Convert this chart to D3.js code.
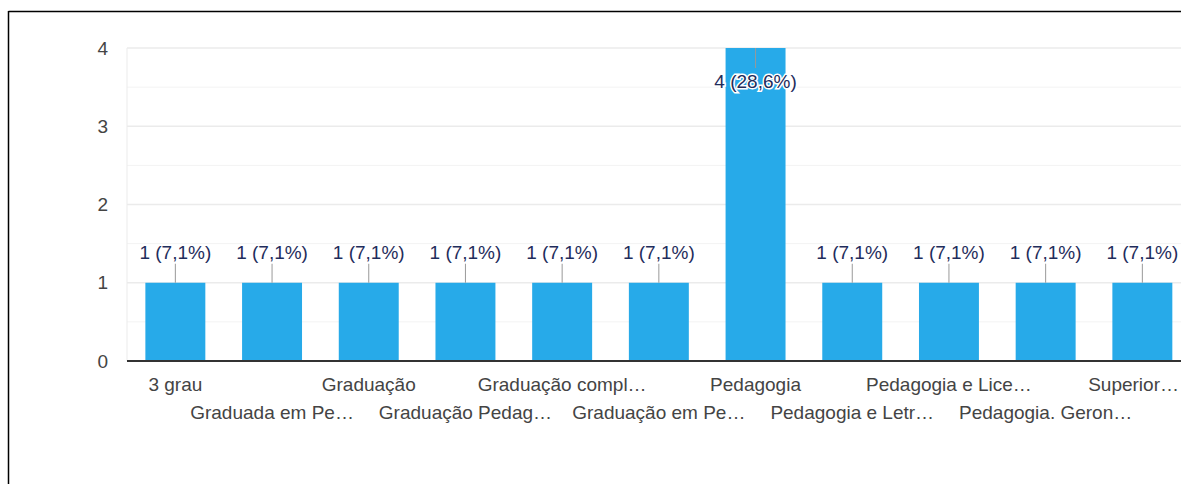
<!DOCTYPE html>
<html><head><meta charset="utf-8">
<script src="https://cdn.jsdelivr.net/npm/d3@7"></script>
<style>body{margin:0;background:#fff;}svg{display:block;font-family:"Liberation Sans", Arial, sans-serif;}</style>
</head><body>
<svg id="c" width="1181" height="484"></svg>
<script>
const categories = ["3 grau","Graduada em Pe…","Graduação","Graduação Pedag…","Graduação compl…","Graduação em Pe…","Pedagogia","Pedagogia e Letr…","Pedagogia e Lice…","Pedagogia. Geron…","Superior…"];
const values = [1,1,1,1,1,1,4,1,1,1,1];
const labels = ["1 (7,1%)","1 (7,1%)","1 (7,1%)","1 (7,1%)","1 (7,1%)","1 (7,1%)","4 (28,6%)","1 (7,1%)","1 (7,1%)","1 (7,1%)","1 (7,1%)"];
const yTicks = [0,1,2,3,4];

(function(){
const svg = d3.select("#c");
svg.append("line").attr("x1",8.5).attr("x2",1181).attr("y1",11.5).attr("y2",11.5).attr("stroke","#000").attr("stroke-width",1.5);
svg.append("line").attr("x1",8.5).attr("x2",8.5).attr("y1",11).attr("y2",484).attr("stroke","#000").attr("stroke-width",1.5);

const pLeft = 127, pBottom = 361, pTop = 48;
const x = d3.scaleBand().domain(categories).range([pLeft, pLeft + 11*96.7]).paddingInner(0.38).paddingOuter(0.19);
const y = d3.scaleLinear().domain([0,4]).range([pBottom, pTop]);

const g = svg.append("g");
d3.range(0.5,4,1).forEach(v=>{
  g.append("line").attr("x1",pLeft).attr("x2",1181).attr("y1",y(v)).attr("y2",y(v)).attr("stroke","#f3f3f3").attr("stroke-width",1);
});
yTicks.slice(1).forEach(v=>{
  g.append("line").attr("x1",pLeft).attr("x2",1181).attr("y1",y(v)).attr("y2",y(v)).attr("stroke","#ebebeb").attr("stroke-width",1.5);
});
g.append("line").attr("x1",pLeft).attr("x2",pLeft).attr("y1",pTop).attr("y2",pBottom).attr("stroke","#ebebeb").attr("stroke-width",1);

svg.append("g").selectAll("text").data(yTicks).join("text")
  .attr("x",108).attr("y",d=>y(d)).attr("dy","0.35em").attr("text-anchor","end")
  .attr("fill","#444").attr("font-size",19).text(d=>d);

svg.append("g").selectAll("rect").data(values).join("rect")
  .attr("x",(d,i)=>x(categories[i])).attr("width",x.bandwidth())
  .attr("y",d=>y(d)).attr("height",d=>pBottom-y(d)).attr("fill","#27aae9");

svg.append("line").attr("x1",pLeft).attr("x2",1181).attr("y1",pBottom).attr("y2",pBottom).attr("stroke","#333").attr("stroke-width",2);

svg.append("g").selectAll("text").data(categories).join("text")
  .attr("x",d=>x(d)+x.bandwidth()/2).attr("y",(d,i)=> i%2===0 ? 391 : 419)
  .attr("text-anchor","middle").attr("fill","#444").attr("font-size",19).text(d=>d)
  .each(function(d){
    const w = this.getComputedTextLength();
    const cx = x(d)+x.bandwidth()/2;
    if (cx + w/2 > 1179) d3.select(this).attr("x", 1179 - w/2);
  });

const ann = svg.append("g");
values.forEach((v,i)=>{
  const cx = x(categories[i]) + x.bandwidth()/2;
  if (v < 4) {
    ann.append("line").attr("x1",cx).attr("x2",cx).attr("y1",y(v)).attr("y2",y(v)-19).attr("stroke","#999").attr("stroke-width",1);
    ann.append("text").attr("x",cx).attr("y",y(v)-24).attr("text-anchor","middle").attr("fill","#1f2d5c").attr("font-size",19).text(labels[i]);
  } else {
    ann.append("line").attr("x1",cx).attr("x2",cx).attr("y1",y(v)).attr("y2",y(v)+20).attr("stroke","#999").attr("stroke-width",1);
    ann.append("text").attr("x",cx).attr("y",y(v)+40).attr("text-anchor","middle").attr("fill","#1f2d5c")
      .attr("stroke","#fff").attr("stroke-width",3).attr("paint-order","stroke").attr("font-size",19).text(labels[i]);
  }
});
})();
</script>
</body></html>
